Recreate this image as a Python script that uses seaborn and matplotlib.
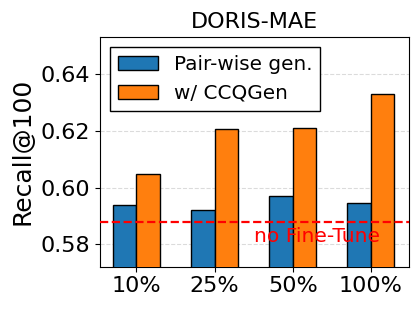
import numpy as np
import pandas as pd
import seaborn as sns
import matplotlib.pyplot as plt

ratios = ['10%', '25%', '50%', '100%']
pairwise = [0.5940, 0.5922, 0.5972, 0.5946]
ccqgen = [0.6048, 0.6206, 0.6210, 0.6330]
no_finetune = 0.5878
methods = ['Pair-wise gen.', 'w/ CCQGen']

df = pd.DataFrame({
    'ratio': ratios * 2,
    'recall': pairwise + ccqgen,
    'method': [methods[0]] * 4 + [methods[1]] * 4,
})

fig, ax = plt.subplots(figsize=(4.18, 3.1), dpi=100)
fig.subplots_adjust(left=0.2385, right=0.979, top=0.8816, bottom=0.1397)

sns.barplot(data=df, x='ratio', y='recall', hue='method', order=ratios,
            palette=['#1f77b4', '#ff7f0e'], saturation=1, width=0.6,
            edgecolor='black', linewidth=1, ax=ax, zorder=3)

ax.axhline(no_finetune, color='red', linestyle='--', linewidth=1.6, zorder=4)
ax.text(1.51, 0.5808, 'no Fine-Tune', color='red', fontsize=14.6, zorder=5)

allv = pairwise + ccqgen
ax.set_ylim(min(allv) - 0.02, max(allv) + 0.02)
ax.set_xlim(-0.47, 3.49)
ax.set_yticks([0.58, 0.60, 0.62, 0.64])
ax.set_yticklabels(['0.58', '0.60', '0.62', '0.64'])
ax.yaxis.grid(True, linestyle='--', color='lightgray', alpha=0.8)
ax.set_axisbelow(True)

ax.set_title('DORIS-MAE', fontsize=16)
ax.set_ylabel('Recall@100', fontsize=18)
ax.set_xlabel('')
ax.tick_params(axis='both', labelsize=16)
ax.legend(fontsize=14.4, loc='upper left', fancybox=False, edgecolor='black',
          framealpha=1)

fig.savefig('out.png', dpi=100)
